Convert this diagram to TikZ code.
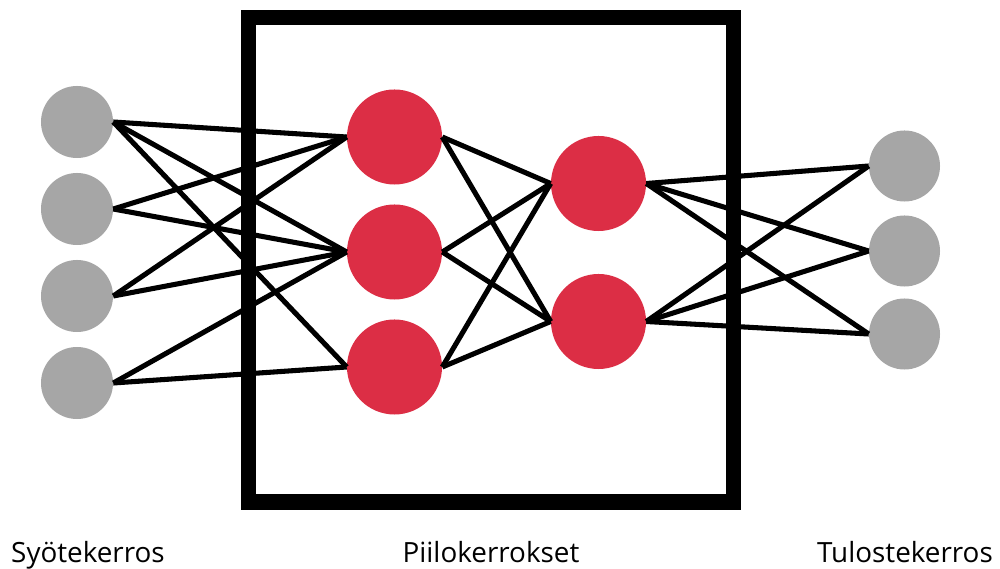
\documentclass[tikz,border=0pt]{standalone}
\usepackage{fontspec}
\setmainfont{Open Sans}
\definecolor{unitred}{HTML}{DC2E45}
\definecolor{unitgray}{HTML}{A6A6A6}
\begin{document}
\begin{tikzpicture}[x=0.025cm, y=-0.025cm,
  io/.style={circle, fill=unitgray, minimum size=1.8cm, inner sep=0pt},
  hid/.style={circle, fill=unitred, minimum size=2.375cm, inner sep=0pt},
  link/.style={line width=3.6pt},
  frame/.style={line width=10.7pt},
  caption/.style={font=\fontsize{19.8}{22}\selectfont, anchor=base}]
\useasboundingbox (0,0) rectangle (1000,569);

% hidden-layer frame
\draw[frame] (248.5,17.5) rectangle (733.5,502);

% input layer
\node[io] (i1) at (77,122) {};
\node[io] (i2) at (77,209) {};
\node[io] (i3) at (77,296) {};
\node[io] (i4) at (77,383) {};

% first hidden layer
\node[hid] (h1) at (394.5,137) {};
\node[hid] (h2) at (394.5,252) {};
\node[hid] (h3) at (394.5,367) {};

% second hidden layer
\node[hid] (g1) at (598.5,183.5) {};
\node[hid] (g2) at (598.5,321.5) {};

% output layer
\node[io, minimum size=1.775cm] (o1) at (904.5,166) {};
\node[io, minimum size=1.775cm] (o2) at (904.5,251) {};
\node[io, minimum size=1.775cm] (o3) at (904.5,334) {};

% connections
\foreach \a/\b in {i1/h1,i1/h2,i1/h3,i2/h1,i2/h2,i3/h1,i3/h2,i4/h2,i4/h3}
  \draw[link] (\a.east) -- (\b.west);
\foreach \a in {h1,h2,h3}
  \foreach \b in {g1,g2}
    \draw[link] (\a.east) -- (\b.west);
\foreach \a in {g1,g2}
  \foreach \b in {o1,o2,o3}
    \draw[link] (\a.east) -- (\b.west);

% layer names
\node[caption] (lin) at (88,563) {Syötekerros};
\node[caption] (lhid) at (491,563) {Piilokerrokset};
\node[caption] (lout) at (905,563) {Tulostekerros};
\end{tikzpicture}
\end{document}
